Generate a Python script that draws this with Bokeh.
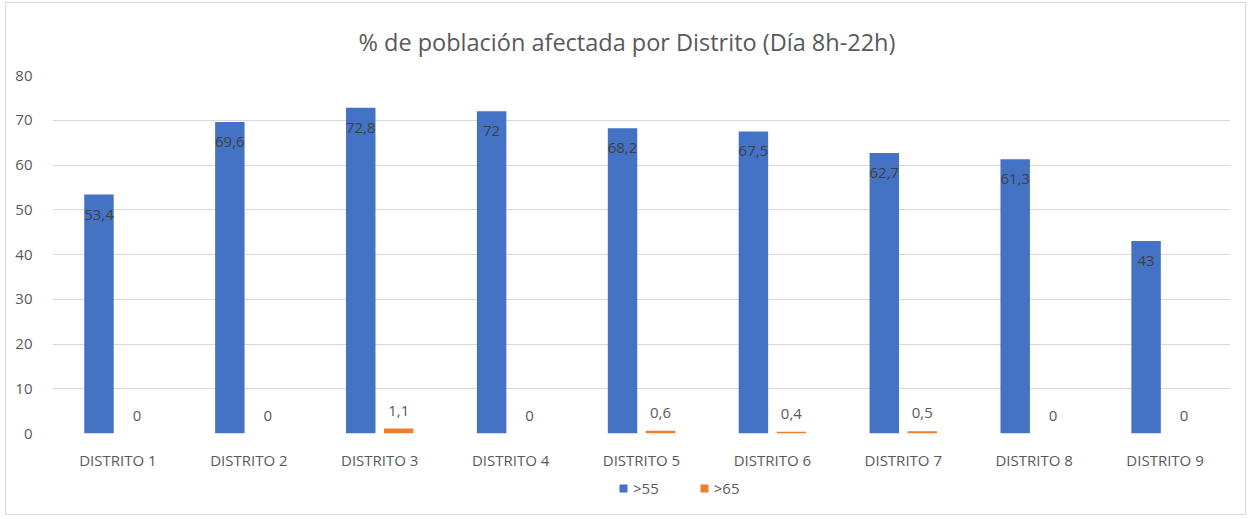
from bokeh.plotting import figure
from bokeh.layouts import column
from bokeh.models import ColumnDataSource, FactorRange, LabelSet, Legend, LegendItem, Range1d, FixedTicker
from bokeh.core.properties import value
from bokeh.transform import dodge
from bokeh.embed import file_html
from bokeh.resources import INLINE

categories = ["DISTRITO 1", "DISTRITO 2", "DISTRITO 3", "DISTRITO 4", "DISTRITO 5",
              "DISTRITO 6", "DISTRITO 7", "DISTRITO 8", "DISTRITO 9"]
vals_55 = [53.4, 69.6, 72.8, 72.0, 68.2, 67.5, 62.7, 61.3, 43.0]
vals_65 = [0.0, 0.0, 1.1, 0.0, 0.6, 0.4, 0.5, 0.0, 0.0]
series_names = [">55", ">65"]
y_ticks = [0, 10, 20, 30, 40, 50, 60, 70, 80]
title_text = "% de población afectada por Distrito (Día 8h-22h)"

BLUE = "#4472C4"
ORANGE = "#ED7D31"
GREY = "#595959"
FONT = "Open Sans"


def fmt(v):
    return f"{v:g}".replace(".", ",")


src = ColumnDataSource(dict(
    cat=categories,
    a=vals_55,
    b=vals_65,
    la=[fmt(v) for v in vals_55],
    lb=[fmt(v) for v in vals_65],
))

p = figure(
    x_range=FactorRange(*categories, range_padding=0),
    y_range=Range1d(0, 80),
    width=1239, height=470,
    output_backend="svg", toolbar_location=None,
    min_border_left=46, min_border_right=15, min_border_top=72, min_border_bottom=40,
    title=title_text,
)

p.title.align = "left"
p.title.offset = 306
p.title.text_font = FONT
p.title.text_font_size = "23.5px"
p.title.text_font_style = "normal"
p.title.text_color = GREY
p.title.standoff = 36

rb = p.vbar(x=dodge("cat", -0.145, range=p.x_range), top="a", width=0.225, source=src,
            fill_color=BLUE, line_color=None)
ro = p.vbar(x=dodge("cat", 0.145, range=p.x_range), top="b", width=0.225, source=src,
            fill_color=ORANGE, line_color=None)

la = LabelSet(x=dodge("cat", -0.145, range=p.x_range), y="a", text="la", source=src,
              text_align="center", text_baseline="middle", y_offset=-20,
              text_font=value(FONT), text_font_size=value("15px"), text_color="#404040")
lb = LabelSet(x=dodge("cat", 0.145, range=p.x_range), y="b", text="lb", source=src,
              text_align="center", text_baseline="middle", y_offset=18,
              text_font=value(FONT), text_font_size=value("15px"), text_color=GREY)
p.add_layout(la)
p.add_layout(lb)

p.outline_line_color = None
p.xgrid.grid_line_color = None
p.ygrid.grid_line_color = "#d9d9d9"
p.ygrid.grid_line_width = 1
p.yaxis.ticker = FixedTicker(ticks=y_ticks)

for ax in (p.xaxis, p.yaxis):
    ax.axis_line_color = None
    ax.major_tick_line_color = None
    ax.minor_tick_line_color = None
    ax.major_label_text_font = FONT
    ax.major_label_text_font_size = "15px"
    ax.major_label_text_color = GREY
p.yaxis.major_label_standoff = 14
p.xaxis.major_label_standoff = 10

# legend strip below the chart
lf = figure(width=1239, height=41, output_backend="svg", toolbar_location=None,
            x_range=Range1d(0, 1), y_range=Range1d(0, 1),
            min_border_left=0, min_border_right=0, min_border_top=0, min_border_bottom=0)
lf.xaxis.visible = False
lf.yaxis.visible = False
lf.grid.visible = False
lf.outline_line_color = None
gb = lf.vbar(x=[0.5], top=[0], bottom=[0], width=0.1, fill_color=BLUE, line_color=None)
go = lf.vbar(x=[0.5], top=[0], bottom=[0], width=0.1, fill_color=ORANGE, line_color=None)
legend = Legend(items=[LegendItem(label=series_names[0], renderers=[gb]),
                       LegendItem(label=series_names[1], renderers=[go])],
                orientation="horizontal", location=(566, 16),
                glyph_width=10, glyph_height=10, spacing=40, padding=0, margin=0,
                label_text_font=FONT, label_text_font_size="15px", label_text_color=GREY,
                label_standoff=5, border_line_color=None, background_fill_alpha=0)
lf.add_layout(legend, "center")

layout = column(p, lf, spacing=0,
                styles={"border": "1px solid #d9d9d9", "margin-left": "5px", "margin-top": "2px"})

open("out.html", "w").write(file_html(layout, INLINE))
